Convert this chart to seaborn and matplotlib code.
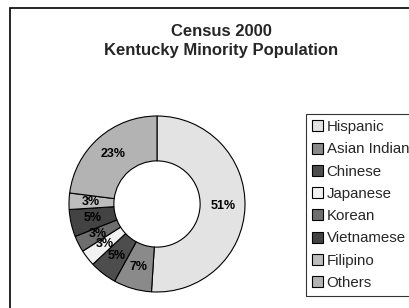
import matplotlib
matplotlib.use("Agg")
import matplotlib.pyplot as plt
import seaborn as sns
from matplotlib.patches import Rectangle

groups = ["Hispanic", "Asian Indian", "Chinese", "Japanese",
          "Korean", "Vietnamese", "Filipino", "Others"]
shares = [51, 7, 5, 3, 3, 5, 3, 23]
shade = ["#e3e3e3", "#8a8a8a", "#4d4d4d", "#f2f2f2",
         "#6e6e6e", "#434343", "#bdbdbd", "#b3b3b3"]
title_lines = ["Census 2000", "Kentucky Minority Population"]


def main():
    sns.set_style("white")
    plt.rcParams["font.family"] = ["Liberation Sans", "DejaVu Sans"]

    W, H = 409, 308
    fig = plt.figure(figsize=(W / 100, H / 100), dpi=100)

    # outer chart frame, runs off the right and bottom edges
    fig.add_artist(Rectangle((10 / W, -0.1), 1.2, 1 - 8 / H + 0.1,
                             transform=fig.transFigure, fill=False,
                             edgecolor="black", linewidth=1.2))

    cx, cy, r = 157, 204, 88
    ax = fig.add_axes([(cx - r) / W, (H - cy - r) / H, 2 * r / W, 2 * r / H])
    wedges, _, autotexts = ax.pie(
        shares, colors=shade, startangle=90, counterclock=False,
        autopct="%d%%", pctdistance=0.75, radius=1,
        wedgeprops=dict(width=0.51, edgecolor="black", linewidth=0.8),
        textprops=dict(fontsize=9, fontweight="bold", color="black"))
    ax.set_xlim(-1, 1)
    ax.set_ylim(-1, 1)
    ax.set_aspect("equal")
    ax.axis("off")

    fig.text(221 / W, 1 - 41 / H, "\n".join(title_lines), ha="center",
             va="center", fontsize=12, fontweight="bold", linespacing=1.25)

    leg = fig.legend(wedges, groups, loc="upper left",
                     bbox_to_anchor=(306 / W, 1 - 114 / H),
                     fontsize=10.8, frameon=True, fancybox=False,
                     borderpad=0.4, labelspacing=0.55, handlelength=0.75,
                     handleheight=0.75, handletextpad=0.22, borderaxespad=0)
    leg.get_frame().set_edgecolor("black")
    leg.get_frame().set_linewidth(0.8)

    fig.savefig("out.png", dpi=100)


if __name__ == "__main__":
    main()
